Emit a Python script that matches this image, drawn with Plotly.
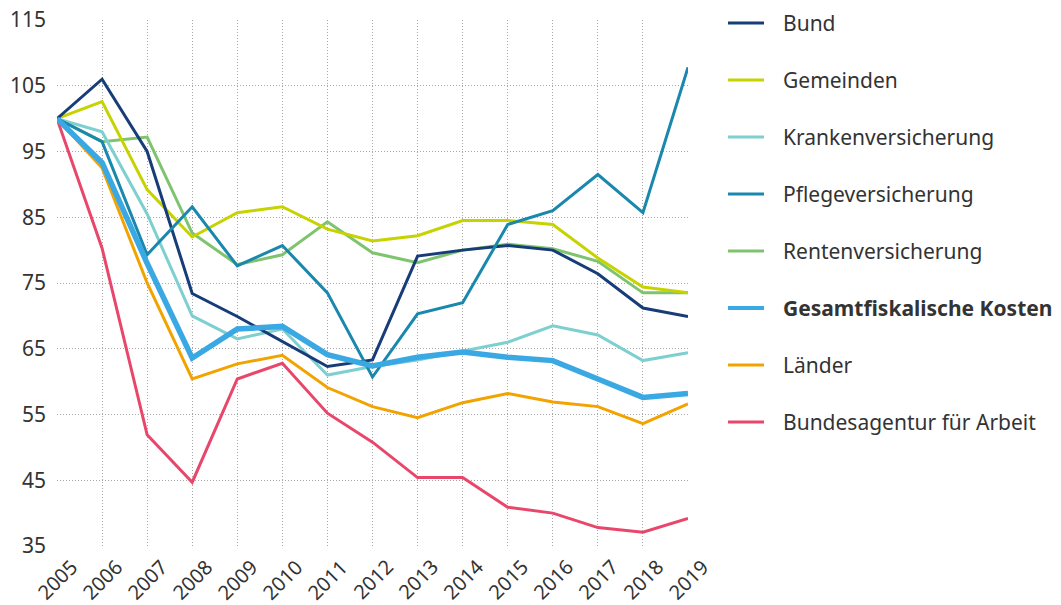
import plotly.graph_objects as go

years = list(range(2005, 2020))

bund = [100, 106.0, 95.0, 73.4, 69.9, 66.1, 62.3, 63.3, 79.1, 80.0, 80.7, 80.0, 76.4, 71.2, 69.9]
gemeinden = [100, 102.6, 89.2, 82.0, 85.7, 86.6, 83.2, 81.4, 82.2, 84.5, 84.5, 83.9, 78.8, 74.4, 73.5]
kranken = [100, 98.0, 85.5, 70.0, 66.5, 68.0, 61.0, 62.3, 63.3, 64.7, 66.0, 68.5, 67.1, 63.2, 64.4]
pflege = [100, 96.5, 79.3, 86.6, 77.6, 80.7, 73.5, 60.7, 70.3, 72.0, 83.9, 86.0, 91.5, 85.7, 107.8]
renten = [100, 96.5, 97.2, 82.6, 77.8, 79.3, 84.3, 79.6, 78.1, 80.0, 80.9, 80.2, 78.3, 73.5, 73.5]
gesamt = [100, 93.3, 78.0, 63.6, 68.0, 68.4, 64.1, 62.4, 63.7, 64.5, 63.7, 63.2, 60.4, 57.6, 58.2]
laender = [100, 92.5, 75.0, 60.4, 62.7, 64.0, 59.1, 56.2, 54.5, 56.8, 58.2, 56.9, 56.2, 53.6, 56.6]
ba = [100, 80.3, 51.9, 44.7, 60.4, 62.8, 55.2, 50.8, 45.4, 45.4, 40.9, 40.0, 37.8, 37.1, 39.2]

y_ticks = [35, 45, 55, 65, 75, 85, 95, 105, 115]

# name, values, colour, line width, bold legend label
series = [
    ("Bund", bund, "#173d78", 3, False),
    ("Gemeinden", gemeinden, "#c6d300", 3, False),
    ("Krankenversicherung", kranken, "#7dcfd0", 3, False),
    ("Pflegeversicherung", pflege, "#1a88ad", 3, False),
    ("Rentenversicherung", renten, "#7ec46e", 3, False),
    ("Gesamtfiskalische Kosten", gesamt, "#3aa8e2", 5.5, True),
    ("Länder", laender, "#f2a300", 3, False),
    ("Bundesagentur für Arbeit", ba, "#e8476b", 3, False),
]

draw_order = ["Rentenversicherung", "Gemeinden", "Krankenversicherung", "Länder",
              "Bundesagentur für Arbeit", "Bund", "Pflegeversicherung",
              "Gesamtfiskalische Kosten"]

fig = go.Figure()
lookup = {s[0]: s for s in series}
for name in draw_order:
    _, vals, color, width, _ = lookup[name]
    fig.add_trace(go.Scatter(x=years, y=vals, mode="lines", name=name,
                             line=dict(color=color, width=width),
                             showlegend=False, cliponaxis=False))

W, H = 1061, 605
L, R, T, B = 57, 373, 20, 59
pw, ph = W - L - R, H - T - B

def px_x(x):
    return (x - L) / pw

def px_y(y):
    return 1 - (y - T) / ph

# Legend drawn as line swatches + labels on the right
for i, (name, _, color, width, bold) in enumerate(series):
    yy = 23 + i * 57
    fig.add_shape(type="line", xref="paper", yref="paper",
                  x0=px_x(728), x1=px_x(764), y0=px_y(yy), y1=px_y(yy),
                  line=dict(color=color, width=4 if bold else 3))
    fig.add_annotation(xref="paper", yref="paper", x=px_x(781), y=px_y(yy),
                       xanchor="left", yanchor="middle", showarrow=False,
                       text=f"<b>{name}</b>" if bold else name,
                       font=dict(size=21, color="#333333", family="Noto Sans"))

# Rotated year labels centred under each tick
for yr in years:
    fig.add_annotation(xref="x", yref="paper", x=yr, y=px_y(579),
                       xanchor="center", yanchor="middle", showarrow=False,
                       text=str(yr), textangle=-45,
                       font=dict(size=20, color="#333333", family="Noto Sans"))

grid = dict(showgrid=True, gridcolor="#a8a8a8", gridwidth=1, griddash="1px,2px",
            zeroline=False, showline=False, ticks="", automargin=False)

fig.update_layout(
    width=W, height=H,
    margin=dict(l=L, r=R, t=T, b=B, autoexpand=False),
    plot_bgcolor="white", paper_bgcolor="white",
    font=dict(family="Noto Sans", size=21, color="#333333"),
    xaxis=dict(range=[2005, 2019], tickmode="array", tickvals=years,
               showticklabels=False, **grid),
    yaxis=dict(range=[35, 115], tickmode="array", tickvals=y_ticks,
               ticktext=[str(v) for v in y_ticks], ticklabelstandoff=10, **grid),
)

fig.write_html("out.html")
